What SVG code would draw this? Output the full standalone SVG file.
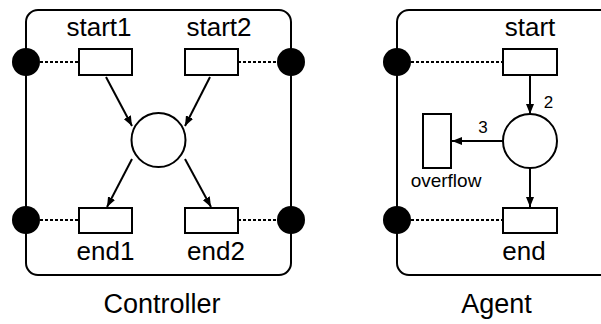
<svg xmlns="http://www.w3.org/2000/svg" width="601" height="324" viewBox="0 0 601 324">
  <style>
    .frame { fill: #fff; stroke: #000; stroke-width: 2; }
    .port { fill: #000; }
    .box { fill: #fff; stroke: #000; stroke-width: 2; }
    .place { fill: #fff; stroke: #000; stroke-width: 2; }
    .link { stroke: #000; stroke-width: 2; stroke-dasharray: 3 2; fill: none; }
    .arc { stroke: #000; stroke-width: 2; fill: none; marker-end: url(#head); }
    text { font-family: "Liberation Sans", Arial, sans-serif; fill: #000; text-anchor: middle; }
    .lbl { font-size: 26px; }
    .title { font-size: 27px; }
    .small { font-size: 19px; }
    .num { font-size: 17px; }
  </style>
  <defs>
    <marker id="head" viewBox="0 0 10 8" refX="10" refY="4" markerWidth="10" markerHeight="8" markerUnits="userSpaceOnUse" orient="auto">
      <path d="M0,0 L10,4 L0,8 z" fill="#000"/>
    </marker>
  </defs>

  <rect width="601" height="324" fill="#fff"/>

  <!-- Controller -->
  <g id="controller">
    <rect class="frame" x="26" y="10" width="265" height="265" rx="12"/>
    <text class="title" x="162" y="313">Controller</text>
  </g>
  <g id="controller-ports">
    <circle class="port" cx="26" cy="62" r="14"/>
    <circle class="port" cx="291" cy="62" r="14"/>
    <circle class="port" cx="26" cy="220" r="14"/>
    <circle class="port" cx="291" cy="220" r="14"/>
  </g>
  <g id="start1">
    <rect class="box" x="79" y="49" width="53" height="26"/>
    <text class="lbl" x="99" y="36">start1</text>
  </g>
  <g id="start2">
    <rect class="box" x="185" y="49" width="53" height="26"/>
    <text class="lbl" x="219" y="36">start2</text>
  </g>
  <g id="end1">
    <rect class="box" x="79" y="208" width="53" height="25"/>
    <text class="lbl" x="105.5" y="260">end1</text>
  </g>
  <g id="end2">
    <rect class="box" x="185" y="208" width="53" height="25"/>
    <text class="lbl" x="216" y="260">end2</text>
  </g>
  <g id="hub">
    <circle class="place" cx="158.5" cy="140" r="27"/>
  </g>

  <!-- Agent -->
  <g id="agent">
    <rect class="frame" x="397" y="10" width="220" height="265" rx="12"/>
    <text class="title" x="496.5" y="313">Agent</text>
  </g>
  <g id="agent-ports">
    <circle class="port" cx="397" cy="62" r="14"/>
    <circle class="port" cx="397" cy="220" r="14"/>
  </g>
  <g id="start">
    <rect class="box" x="503" y="49" width="54" height="26"/>
    <text class="lbl" x="530" y="36">start</text>
  </g>
  <g id="end">
    <rect class="box" x="503" y="208" width="54" height="25"/>
    <text class="lbl" x="524" y="260">end</text>
  </g>
  <g id="overflow">
    <rect class="box" x="423" y="114" width="28" height="54"/>
    <text class="small" x="446" y="187">overflow</text>
  </g>
  <g id="agent-place">
    <circle class="place" cx="530" cy="141" r="27"/>
  </g>

  <!-- connectors -->
  <g id="connectors">
    <line class="link" x1="40" y1="62" x2="79" y2="62"/>
    <line class="link" x1="40" y1="220" x2="79" y2="220"/>
    <line class="link" x1="238" y1="62" x2="277" y2="62"/>
    <line class="link" x1="238" y1="220" x2="277" y2="220"/>
    <line class="arc" x1="106" y1="77" x2="132" y2="126"/>
    <line class="arc" x1="210" y1="77" x2="185" y2="126"/>
    <line class="arc" x1="132" y1="159" x2="107" y2="207"/>
    <line class="arc" x1="185" y1="159" x2="211" y2="207"/>

    <line class="link" x1="411" y1="62" x2="503" y2="62"/>
    <line class="link" x1="411" y1="220" x2="503" y2="220"/>
    <line class="arc" x1="530" y1="75" x2="530" y2="114"/>
    <line class="arc" x1="503" y1="141" x2="452" y2="141"/>
    <line class="arc" x1="530" y1="168" x2="530" y2="207"/>
    <text class="num" x="548.5" y="108">2</text>
    <text class="num" x="483" y="133">3</text>
  </g>
</svg>
